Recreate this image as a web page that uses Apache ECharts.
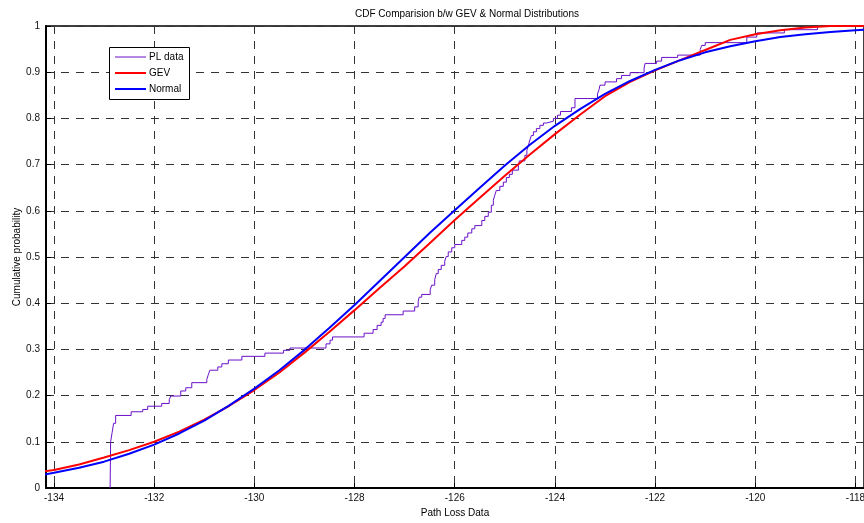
<!DOCTYPE html>
<html>
<head>
<meta charset="utf-8">
<script src="https://cdn.jsdelivr.net/npm/echarts@6/dist/echarts.min.js"></script>
<style>
html,body{margin:0;padding:0;background:#fff;}
#c{width:864px;height:523px;}
</style>
</head>
<body>
<div id="c"></div>
<script>
// ---- data ----
const xTicks = [-134, -132, -130, -128, -126, -124, -122, -120, -118];
const yTicks = [0, 0.1, 0.2, 0.3, 0.4, 0.5, 0.6, 0.7, 0.8, 0.9, 1];

const curveX = [-134.2, -134, -133.5, -133, -132.5, -132, -131.5, -131, -130.5, -130,
  -129.5, -129, -128.5, -128, -127.5, -127, -126.5, -126, -125.5, -125,
  -124.5, -124, -123.5, -123, -122.5, -122, -121.5, -121, -120.5, -120,
  -119.5, -119, -118.5, -118, -117.8];

const gevY = [0.036, 0.039, 0.051, 0.066, 0.082, 0.100, 0.122, 0.148, 0.178, 0.212,
  0.250, 0.293, 0.338, 0.385, 0.433, 0.480, 0.530, 0.580, 0.628, 0.676,
  0.722, 0.766, 0.808, 0.848, 0.879, 0.904, 0.926, 0.948, 0.970, 0.982,
  0.991, 0.997, 1.0, 1.0, 1.0];

const normalY = [0.029, 0.033, 0.044, 0.057, 0.074, 0.094, 0.118, 0.146, 0.179, 0.215,
  0.255, 0.299, 0.347, 0.396, 0.448, 0.500, 0.552, 0.601, 0.650, 0.698,
  0.743, 0.784, 0.820, 0.853, 0.881, 0.905, 0.926, 0.943, 0.956, 0.967,
  0.976, 0.982, 0.987, 0.991, 0.992];

const plX = [-132.88, -132.87, -132.84, -132.81, -132.77, -132.46, -132.23, -132.13, -131.85, -131.70,
  -131.67, -131.47, -131.37, -131.25, -130.95, -130.92, -130.89, -130.73, -130.65, -130.52,
  -130.25, -129.79, -129.42, -129.29, -128.57, -128.49, -128.44, -127.81, -127.63, -127.55,
  -127.47, -127.43, -127.39, -127.03, -126.80, -126.73, -126.71, -126.66, -126.49, -126.46,
  -126.40, -126.37, -126.33, -126.27, -126.20, -126.17, -126.13, -126.06, -126.00, -125.86,
  -125.80, -125.74, -125.66, -125.60, -125.46, -125.40, -125.33, -125.27, -125.23, -125.20,
  -125.17, -125.10, -125.03, -124.97, -124.91, -124.85, -124.73, -124.71, -124.60, -124.56,
  -124.53, -124.50, -124.47, -124.43, -124.37, -124.30, -124.23, -124.17, -124.03, -123.95,
  -123.89, -123.67, -123.60, -123.15, -123.12, -123.10, -123.00, -122.77, -122.67, -122.50,
  -122.22, -122.20, -121.97, -121.87, -121.55, -121.10, -121.07, -121.00, -120.17, -119.97,
  -119.42, -118.76];

const plY = [0.000, 0.100, 0.120, 0.140, 0.157, 0.165, 0.170, 0.177, 0.183, 0.191,
  0.199, 0.210, 0.217, 0.228, 0.235, 0.245, 0.255, 0.262, 0.269, 0.277,
  0.285, 0.292, 0.298, 0.303, 0.312, 0.320, 0.327, 0.335, 0.343, 0.352,
  0.359, 0.367, 0.375, 0.383, 0.392, 0.404, 0.413, 0.419, 0.429, 0.439,
  0.451, 0.464, 0.473, 0.482, 0.491, 0.501, 0.511, 0.520, 0.527, 0.536,
  0.543, 0.552, 0.561, 0.568, 0.579, 0.588, 0.597, 0.612, 0.623, 0.634,
  0.644, 0.653, 0.662, 0.672, 0.679, 0.688, 0.698, 0.708, 0.720, 0.731,
  0.742, 0.753, 0.763, 0.771, 0.778, 0.785, 0.790, 0.794, 0.800, 0.807,
  0.815, 0.823, 0.843, 0.853, 0.862, 0.872, 0.879, 0.886, 0.893, 0.899,
  0.909, 0.919, 0.924, 0.932, 0.937, 0.949, 0.958, 0.964, 0.976, 0.985,
  0.992, 1.000];

const seriesNames = ['PL data', 'GEV', 'Normal'];
const seriesColors = ['#6a10c8', '#ff0000', '#0000ff'];
const seriesWidths = [1, 2, 2];
const titleText = 'CDF Comparision b/w GEV & Normal Distributions';
const xName = 'Path Loss Data';
const yName = 'Cumulative probability';

// ---- build chart ----
const FONT = '"Liberation Sans", Arial, Helvetica, sans-serif';
const zip = (a, b) => a.map((v, i) => [v, b[i]]);

// legend drawn as a boxed key (MATLAB style)
const legendBox = {x: 109, y: 47, w: 80, h: 52};
const legendGraphic = [{
  type: 'rect', z: 100,
  shape: {x: legendBox.x + 0.5, y: legendBox.y + 0.5, width: legendBox.w, height: legendBox.h},
  style: {fill: '#fff', stroke: '#000', lineWidth: 1}
}];
seriesNames.forEach((n, i) => {
  const cy = legendBox.y + 10 + i * 16;
  legendGraphic.push({
    type: 'line', z: 101,
    shape: {x1: legendBox.x + 6, y1: cy, x2: legendBox.x + 37, y2: cy},
    style: {stroke: seriesColors[i], lineWidth: seriesWidths[i]}
  });
  legendGraphic.push({
    type: 'text', z: 101, x: legendBox.x + 40, y: cy,
    style: {text: n, fill: '#000', font: '10px ' + FONT, textVerticalAlign: 'middle', verticalAlign: 'middle'}
  });
});

const chart = echarts.init(document.getElementById('c'), null, {renderer: 'canvas'});
chart.setOption({
  animation: false,
  backgroundColor: '#fff',
  textStyle: {fontFamily: FONT},
  title: {
    text: titleText,
    left: 462, top: 4, textAlign: 'center',
    textStyle: {fontSize: 10, fontWeight: 'normal', color: '#000', fontFamily: FONT}
  },
  grid: {
    left: 46, right: 0, top: 26, bottom: 35,
    outerBoundsMode: 'none', containLabel: false,
    show: true, borderColor: '#000', borderWidth: 1.5, backgroundColor: '#fff'
  },
  graphic: legendGraphic,
  xAxis: {
    type: 'value', min: -134.16, max: -117.83,
    name: xName, nameLocation: 'middle', nameGap: 20, nameMoveOverlap: false,
    nameTextStyle: {fontSize: 10, color: '#000', fontFamily: FONT},
    axisLine: {show: true, onZero: false, lineStyle: {color: '#000', width: 2}},
    axisTick: {show: true, inside: true, length: 5, customValues: xTicks, lineStyle: {color: '#000'}},
    axisLabel: {customValues: xTicks, fontSize: 10, color: '#111', margin: 5, fontFamily: FONT,
      hideOverlap: false, formatter: v => String(v)},
    splitLine: {show: true, lineStyle: {color: '#333', type: [8, 7], width: 1}}
  },
  yAxis: {
    type: 'value', min: 0, max: 1, interval: 0.1,
    name: yName, nameLocation: 'middle', nameGap: 24, nameMoveOverlap: false,
    nameTextStyle: {fontSize: 10, color: '#000', fontFamily: FONT},
    axisLine: {show: true, onZero: false, lineStyle: {color: '#000', width: 2}},
    axisTick: {show: true, inside: true, length: 5, lineStyle: {color: '#000'}},
    axisLabel: {fontSize: 10, color: '#111', margin: 6, fontFamily: FONT,
      formatter: v => {const s = yTicks.find(t => Math.abs(t - v) < 1e-9); return String(s === undefined ? +v.toFixed(1) : s);}},
    splitLine: {show: true, lineStyle: {color: '#333', type: [8, 7], width: 1}}
  },
  series: [
    {
      name: seriesNames[0], type: 'line', step: 'end', symbol: 'none', clip: true,
      lineStyle: {color: seriesColors[0], width: seriesWidths[0]}, itemStyle: {color: seriesColors[0]},
      data: zip(plX, plY)
    },
    {
      name: seriesNames[1], type: 'line', symbol: 'none', clip: true,
      lineStyle: {color: seriesColors[1], width: seriesWidths[1]}, itemStyle: {color: seriesColors[1]},
      data: zip(curveX, gevY)
    },
    {
      name: seriesNames[2], type: 'line', symbol: 'none', clip: true,
      lineStyle: {color: seriesColors[2], width: seriesWidths[2]}, itemStyle: {color: seriesColors[2]},
      data: zip(curveX, normalY)
    }
  ]
});
</script>
</body>
</html>
